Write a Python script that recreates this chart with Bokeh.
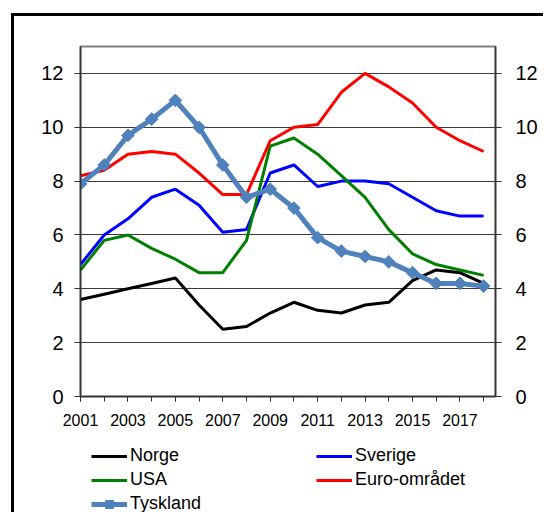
from bokeh.plotting import figure
from bokeh.models import (FixedTicker, LinearAxis, Legend, LegendItem, Range1d,
                          ColumnDataSource)
from bokeh.layouts import column
from bokeh.embed import file_html
from bokeh.resources import INLINE
import numpy as np

years = list(range(2001, 2019))
norge = [3.6, 3.8, 4.0, 4.2, 4.4, 3.4, 2.5, 2.6, 3.1, 3.5, 3.2, 3.1, 3.4, 3.5, 4.3, 4.7, 4.6, 4.2]
sverige = [4.9, 6.0, 6.6, 7.4, 7.7, 7.1, 6.1, 6.2, 8.3, 8.6, 7.8, 8.0, 8.0, 7.9, 7.4, 6.9, 6.7, 6.7]
usa = [4.7, 5.8, 6.0, 5.5, 5.1, 4.6, 4.6, 5.8, 9.3, 9.6, 9.0, 8.2, 7.4, 6.2, 5.3, 4.9, 4.7, 4.5]
euro = [8.2, 8.4, 9.0, 9.1, 9.0, 8.3, 7.5, 7.5, 9.5, 10.0, 10.1, 11.3, 12.0, 11.5, 10.9, 10.0, 9.5, 9.1]
tyskland = [7.9, 8.6, 9.7, 10.3, 11.0, 10.0, 8.6, 7.4, 7.7, 7.0, 5.9, 5.4, 5.2, 5.0, 4.6, 4.2, 4.2, 4.1]
y_ticks = [0, 2, 4, 6, 8, 10, 12]
x_label_years = list(range(2001, 2018, 2))

FONT = "Liberation Sans"
COLORS = dict(norge="black", sverige="#0000FF", usa="#008000",
              euro="#FF0000", tyskland="#4F81BD")

src = ColumnDataSource(dict(x=years, norge=norge, sverige=sverige, usa=usa,
                            euro=euro, tyskland=tyskland))

# ---------------- main chart ----------------
p = figure(width=543, height=433, output_backend="svg", toolbar_location=None,
           x_range=Range1d(2001, 2018.5), y_range=Range1d(0, 13),
           min_border_left=80, min_border_right=48, min_border_top=46,
           min_border_bottom=37)
p.background_fill_color = "white"
p.border_fill_alpha = 0
p.outline_line_color = "#808080"
p.outline_line_width = 2
p.xgrid.visible = False
p.ygrid.ticker = FixedTicker(ticks=y_ticks)
p.ygrid.grid_line_color = "#3a3a3a"
p.ygrid.grid_line_width = 1


def style_y(ax, standoff):
    ax.ticker = FixedTicker(ticks=y_ticks)
    ax.major_tick_out = 6
    ax.major_tick_in = 0
    ax.minor_tick_out = 0
    ax.minor_tick_in = 0
    ax.axis_line_color = "#333333"
    ax.axis_line_width = 1.5
    ax.major_tick_line_color = "#333333"
    ax.major_label_text_font = FONT
    ax.major_label_text_font_size = "20px"
    ax.major_label_text_color = "black"
    ax.major_label_standoff = standoff


style_y(p.yaxis[0], 11)
ry = LinearAxis()
style_y(ry, 14)
p.add_layout(ry, "right")

xa = p.xaxis[0]
xa.ticker = FixedTicker(ticks=x_label_years, minor_ticks=years)
xa.major_tick_out = 5
xa.major_tick_in = 0
xa.minor_tick_out = 5
xa.minor_tick_in = 0
xa.axis_line_color = "#333333"
xa.axis_line_width = 1.5
xa.major_tick_line_color = "#333333"
xa.minor_tick_line_color = "#333333"
xa.major_label_text_font = FONT
xa.major_label_text_font_size = "16px"
xa.major_label_text_color = "black"
xa.major_label_standoff = 12

for key in ["norge", "sverige", "usa", "euro"]:
    p.line("x", key, source=src, line_color=COLORS[key], line_width=3)
p.line("x", "tyskland", source=src, line_color=COLORS["tyskland"], line_width=5)
p.scatter("x", "tyskland", source=src, marker="square", angle=np.pi / 4,
          size=9, fill_color=COLORS["tyskland"], line_color=COLORS["tyskland"])

# ---------------- legend strip ----------------
# the legend renderers use the same series, but the ranges keep them out of view
lg = figure(width=543, height=79, output_backend="svg", toolbar_location=None,
            x_axis_type=None, y_axis_type=None,
            x_range=Range1d(0, 1), y_range=Range1d(0, 1),
            min_border=0, min_border_left=0, min_border_right=0,
            min_border_top=0, min_border_bottom=0)
lg.outline_line_color = None
lg.background_fill_alpha = 0
lg.border_fill_alpha = 0
lg.grid.visible = False

l_no = lg.line("x", "norge", source=src, line_color=COLORS["norge"], line_width=3)
l_sv = lg.line("x", "sverige", source=src, line_color=COLORS["sverige"], line_width=3)
l_us = lg.line("x", "usa", source=src, line_color=COLORS["usa"], line_width=3)
l_eu = lg.line("x", "euro", source=src, line_color=COLORS["euro"], line_width=3)
l_ty = lg.line("x", "tyskland", source=src, line_color=COLORS["tyskland"], line_width=5)
l_tym = lg.scatter("x", "tyskland", source=src, marker="square", angle=np.pi / 4,
                   size=6, fill_color=COLORS["tyskland"],
                   line_color=COLORS["tyskland"])

legend = Legend(items=[
    LegendItem(label="Norge", renderers=[l_no]),
    LegendItem(label="USA", renderers=[l_us]),
    LegendItem(label="Tyskland", renderers=[l_ty, l_tym]),
    LegendItem(label="Sverige", renderers=[l_sv]),
    LegendItem(label="Euro-området", renderers=[l_eu]),
], ncols=2, location=(11, -2))
legend.label_text_font = FONT
legend.label_text_font_size = "18px"
legend.label_text_color = "black"
legend.glyph_width = 36
legend.glyph_height = 20
legend.label_height = 20
legend.label_standoff = 3
legend.label_width = 183
legend.spacing = 3
legend.padding = 0
legend.margin = 0
legend.border_line_alpha = 0
legend.background_fill_alpha = 0
lg.add_layout(legend, "center")

layout = column(p, lg, spacing=0)
layout.styles = {
    "background-color": "white",
    "background-image": "linear-gradient(#000, #000), linear-gradient(#000, #000)",
    "background-position": "11px 13px, 11px 13px",
    "background-size": "3px 100%, 100% 3px",
    "background-repeat": "no-repeat, no-repeat",
}

open("out.html", "w").write(file_html(layout, INLINE))
